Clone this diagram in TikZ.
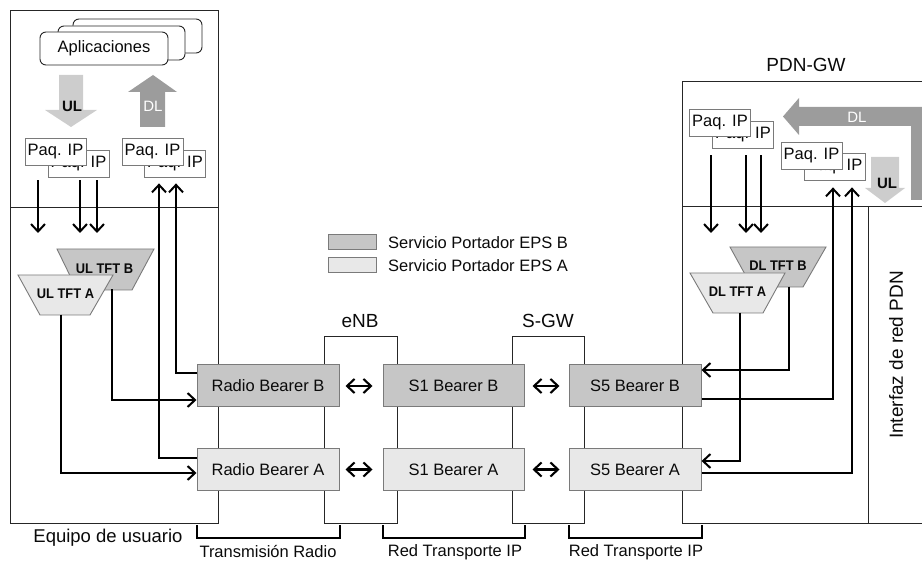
\documentclass[tikz,border=0pt]{standalone}
\usepackage{fontspec}
\setmainfont{Liberation Sans}
\newfontfamily\tftfont[FakeStretch=0.92]{Liberation Sans}
\usetikzlibrary{arrows.meta}
\newcommand\myfs[1]{\fontsize{#1}{#1}\selectfont}
\definecolor{gB}{HTML}{C6C6C6}
\definecolor{gA}{HTML}{E8E8E8}
\definecolor{gBorder}{HTML}{7A7A7A}
\definecolor{gDL}{HTML}{9C9C9C}
\definecolor{gUL}{HTML}{CDCDCD}
\definecolor{txt}{HTML}{0A0A0A}
\tikzset{
  frame/.style={draw=black!85, line width=0.9pt},
  bearer/.style={draw=gBorder, line width=1pt, inner sep=0pt, minimum height=42pt, font=\myfs{16.5}, text=txt},
  bB/.style={bearer, fill=gB},
  bA/.style={bearer, fill=gA},
  paq/.style={draw=gBorder, fill=white, line width=0.8pt, inner sep=0pt, minimum width=61pt, minimum height=27pt, font=\myfs{16.5}, text=txt},
  app/.style={draw=black!85, fill=white, line width=0.9pt, rounded corners=6pt, inner sep=0pt},
  tft/.style={draw=gBorder, line width=0.9pt},
  tftlbl/.style={inner sep=0pt, minimum width=55pt, minimum height=41pt, font=\tftfont\myfs{14}\bfseries, text=txt},
  conn/.style={line width=2pt, -{Straight Barb[length=7.5pt,width=14pt]}},
  dbl/.style={line width=2.1pt, {Straight Barb[length=7.5pt,width=14pt]}-{Straight Barb[length=7.5pt,width=14pt]}},
  brk/.style={line width=2pt},
  lbl/.style={inner sep=0pt, text=txt},
}
\begin{document}
\begin{tikzpicture}[x=1pt,y=-1pt]
\useasboundingbox (0,0) rectangle (922,561);
\clip (0,0) rectangle (922,561);

% ---------- frames ----------
\draw[frame] (10,10) rectangle (218,523);
\draw[frame] (10,207) -- (218,207);
\draw[frame] (324,336) rectangle (397,523);
\draw[frame] (512,336) rectangle (584,523);
\draw[frame] (682,81) rectangle (940,523);
\draw[frame] (682,206) -- (940,206);
\draw[frame] (868,206) -- (868,523);

% ---------- titles ----------
\node[lbl, font=\myfs{18.5}] (ue) at (108,538) {Equipo de usuario};
\node[lbl, font=\myfs{19}] (enb) at (360,321) {eNB};
\node[lbl, font=\myfs{19}] (sgw) at (548,321) {S-GW};
\node[lbl, font=\myfs{19}] (pdn) at (806,65) {PDN-GW};
\node[lbl, font=\myfs{19}, rotate=90] (ifz) at (896,355) {Interfaz de red PDN};

% ---------- applications ----------
\node[app, minimum width=129pt, minimum height=34pt] (app3) at (137.5,36) {};
\node[app, minimum width=127pt, minimum height=34pt] (app2) at (121.5,43) {};
\node[app, minimum width=128pt, minimum height=33pt, font=\myfs{16.5}, text=txt] (app1) at (104,48.5) {Aplicaciones};

% ---------- big arrows UE ----------
\fill[gUL] (59,75) -- (83,75) -- (83,110) -- (97,110) -- (71,127) -- (45,110) -- (59,110) -- cycle;
\node[lbl, font=\myfs{15}\bfseries] (ulue) at (72,106) {UL};
\fill[gDL] (153,75) -- (177,92) -- (165,92) -- (165,127) -- (140,127) -- (140,92) -- (128,92) -- cycle;
\node[lbl, font=\myfs{15}, text=white] (dlue) at (153,106) {DL};

% ---------- big arrows PDN ----------
\fill[gDL] (783,116.5) -- (799,98) -- (799,107) -- (940,107) -- (940,200) -- (911,200) -- (911,126) -- (799,126) -- (799,135) -- cycle;
\node[lbl, font=\myfs{15}, text=white] (dlpdn) at (857,117) {DL};
\fill[gUL] (871,157) -- (899,157) -- (899,188) -- (905,188) -- (885,203) -- (865,188) -- (871,188) -- cycle;
\node[lbl, font=\myfs{15}\bfseries] (ulpdn) at (887,183) {UL};

% ---------- Paq. IP ----------
\node[paq] (paqL2) at (78.5,163.5) {Paq. IP};
\node[paq] (paqL1) at (55.5,151.5) {Paq. IP};
\node[paq] (paqR2) at (175,163.5) {Paq. IP};
\node[paq] (paqR1) at (152.5,151.5) {Paq. IP};
\node[paq] (paqP2) at (743,134.5) {Paq. IP};
\node[paq] (paqP1) at (720,123) {Paq. IP};
\node[paq] (paqQ2) at (834.5,166.5) {Paq. IP};
\node[paq] (paqQ1) at (811.5,156) {Paq. IP};

% ---------- TFTs ----------
\filldraw[tft, fill=gB] (57,249) -- (154,249) -- (132,290) -- (77,290) -- cycle;
\node[tftlbl] (tftB) at (104.5,268.5) {UL TFT B};
\filldraw[tft, fill=gA] (18,275) -- (113,275) -- (90,315) -- (40,315) -- cycle;
\node[tftlbl] (tftA) at (65.5,294) {UL TFT A};
\filldraw[tft, fill=gB] (730,247) -- (826,247) -- (803,287) -- (752,287) -- cycle;
\node[tftlbl] (tftDB) at (778,266) {DL TFT B};
\filldraw[tft, fill=gA] (690,273) -- (785,273) -- (763,313) -- (713,313) -- cycle;
\node[tftlbl] (tftDA) at (737.5,292) {DL TFT A};

% ---------- bearers ----------
\node[bB, minimum width=142pt] (rbB) at (268,386) {Radio Bearer B};
\node[bA, minimum width=142pt] (rbA) at (268,469.5) {Radio Bearer A};
\node[bB, minimum width=141pt] (s1B) at (453.5,386) {S1 Bearer B};
\node[bA, minimum width=141pt] (s1A) at (453.5,469.5) {S1 Bearer A};
\node[bB, minimum width=132pt] (s5B) at (635,386) {S5 Bearer B};
\node[bA, minimum width=132pt] (s5A) at (635,469.5) {S5 Bearer A};

\draw[dbl, shorten <=6pt, shorten >=10pt] (rbB.east) -- (s1B.west);
\draw[dbl, shorten <=6pt, shorten >=10pt] (rbA.east) -- (s1A.west);
\draw[dbl, shorten <=8pt, shorten >=9pt] (s1B.east) -- (s5B.west);
\draw[dbl, shorten <=8pt, shorten >=9pt] (s1A.east) -- (s5A.west);

% ---------- legend ----------
\node[bB, minimum width=48pt, minimum height=15pt] (lgB) at (352,242.5) {};
\node[lbl, anchor=west, font=\myfs{16.5}] (lgBt) at (388,242.5) {Servicio Portador EPS B};
\node[bA, minimum width=48pt, minimum height=15pt] (lgA) at (352,265.5) {};
\node[lbl, anchor=west, font=\myfs{16.5}] (lgAt) at (388,265.5) {Servicio Portador EPS A};

% ---------- UE connectors ----------
\coordinate (d1) at (38,233);
\coordinate (d2) at (80,233);
\coordinate (d3) at (97,233);
\draw[conn, shorten <=3pt] (38,0 |- paqL2.south) -- (d1);
\draw[conn, shorten <=3pt] (80,0 |- paqL2.south) -- (d2);
\draw[conn, shorten <=3pt] (97,0 |- paqL2.south) -- (d3);
\draw[conn, shorten >=6pt] ([yshift=11.5pt]rbA.west) -| ([xshift=-16pt]paqR2.south);
\draw[conn, shorten >=6pt] ([yshift=13pt]rbB.west) -| ([xshift=1pt]paqR2.south);
\draw[conn] ([xshift=7.5pt]tftB.south) |- ([yshift=-14pt]rbB.west);
\draw[conn] ([xshift=-4.5pt]tftA.south) |- ([yshift=-3.5pt]rbA.west);

% ---------- PDN connectors ----------
\coordinate (p1) at (711,233);
\coordinate (p2) at (746,233);
\coordinate (p3) at (761,233);
\draw[conn, shorten <=7pt] (711,0 |- paqP2.south) -- (p1);
\draw[conn, shorten <=7pt] (746,0 |- paqP2.south) -- (p2);
\draw[conn, shorten <=7pt] (761,0 |- paqP2.south) -- (p3);
\draw[conn] ([xshift=11pt]tftDB.south) |- ([yshift=16pt]s5B.east);
\draw[conn] ([xshift=2.5pt]tftDA.south) |- ([yshift=8.5pt]s5A.east);
\draw[conn, shorten >=7pt] ([yshift=-13pt]s5B.east) -| ([xshift=-1.5pt]paqQ2.south);
\draw[conn, shorten >=7pt] ([yshift=-3.5pt]s5A.east) -| ([xshift=17.5pt]paqQ2.south);

% ---------- brackets ----------
\draw[brk] ([yshift=-34pt]rbA.south west) -- ++(0,13) -| ([yshift=-34pt]rbA.south east);
\draw[brk] ([yshift=-34pt]s1A.south west) -- ++(0,13) -| ([yshift=-34pt]s1A.south east);
\draw[brk] ([yshift=-34pt]s5A.south west) -- ++(0,13) -| ([yshift=-34pt]s5A.south east);
\node[lbl, font=\myfs{16.5}] (trr) at (268,552) {Transmisión Radio};
\node[lbl, font=\myfs{16.5}] (rt1) at (455,552) {Red Transporte IP};
\node[lbl, font=\myfs{16.5}] (rt2) at (636,552) {Red Transporte IP};
\end{tikzpicture}
\end{document}
